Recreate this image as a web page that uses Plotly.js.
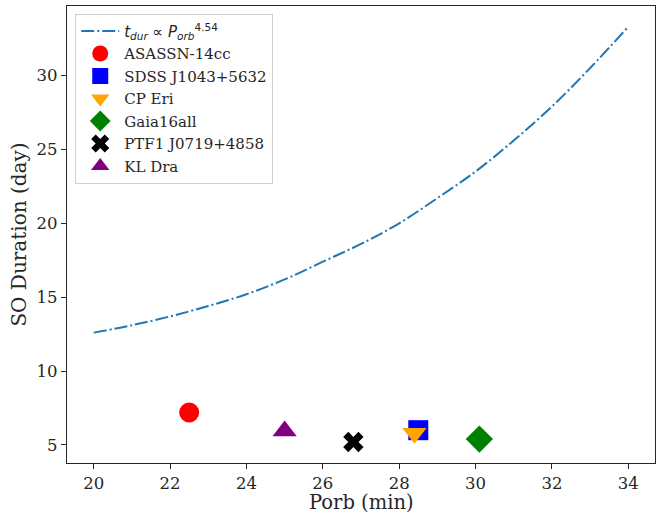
<!DOCTYPE html>
<html>
<head>
<meta charset="utf-8">
<script src="https://cdn.plot.ly/plotly-3.0.1.min.js"></script>
<style>html,body{margin:0;padding:0;background:#fff;}</style>
</head>
<body>
<div id="chart" style="width:671px;height:514px;"></div>
<script>
// Trend curve
const curveP = [20, 21, 22, 23, 24, 25, 26, 27, 28, 29, 30, 31, 32, 33, 34];
const curveT = [12.6, 13.1, 13.7, 14.4, 15.2, 16.2, 17.4, 18.6, 20.0, 21.7, 23.5, 25.6, 27.9, 30.5, 33.3];

// Objects
const names = ["ASASSN-14cc", "SDSS J1043+5632", "CP Eri", "Gaia16all", "PTF1 J0719+4858", "KL Dra"];
const porb = [22.5, 28.5, 28.4, 30.1, 26.8, 25.0];
const soDur = [7.2, 6.0, 5.8, 5.4, 5.2, 5.95];
const colors = ["red", "blue", "orange", "green", "black", "purple"];
const symbols = ["circle", "square", "triangle-down", "diamond", "x", "triangle-up"];
const sizes = [20, 20, 21, 21, 18, 21];

const xTicks = [20, 22, 24, 26, 28, 30, 32, 34];
const yTicks = [5, 10, 15, 20, 25, 30];
const xTitle = "Porb (min)";
const yTitle = "SO Duration (day)";

const traces = [{
  x: curveP, y: curveT, type: "scatter", mode: "lines",
  name: "<span style=\"font-family:'DejaVu Sans'\"><i>t<sub>dur</sub></i> \u221D <i>P<sub>orb</sub></i><sup>4.54</sup></span>",
  line: {color: "#1f77b4", width: 2, dash: "13px,3px,2px,3px", shape: "spline"}
}];
for (let i = 0; i < names.length; i++) {
  traces.push({
    x: [porb[i]], y: [soDur[i]], type: "scatter", mode: "markers", name: names[i],
    marker: {color: colors[i], symbol: symbols[i], size: sizes[i], line: {width: 0}}
  });
}

const axisCommon = {
  showgrid: false, zeroline: false, showline: true, mirror: true,
  linecolor: "#262626", linewidth: 1.2, ticks: "outside", ticklen: 5, tickwidth: 1.2,
  tickcolor: "#262626", tickfont: {family: "DejaVu Serif", size: 16.5, color: "#262626"}
};

const layout = {
  width: 671, height: 514,
  margin: {l: 67, r: 16, t: 6, b: 51},
  paper_bgcolor: "#fff", plot_bgcolor: "#fff",
  showlegend: true,
  legend: {
    x: 0.014, y: 0.983, xanchor: "left", yanchor: "top",
    bgcolor: "rgba(255,255,255,0.8)", bordercolor: "#d0d0d0", borderwidth: 1,
    font: {family: "DejaVu Serif", size: 15, color: "#262626"},
    tracegroupgap: 0, itemwidth: 38
  },
  xaxis: Object.assign({}, axisCommon, {
    range: [19.3, 34.7], tickvals: xTicks
  }),
  yaxis: Object.assign({}, axisCommon, {
    range: [3.78, 34.7], tickvals: yTicks,
    title: {text: yTitle, font: {family: "DejaVu Serif", size: 20, color: "#262626"}, standoff: 4}
  }),
  annotations: [{
    text: xTitle, xref: "paper", yref: "paper", x: 0.5, y: 0,
    xanchor: "center", yanchor: "top", yshift: -26.5, showarrow: false, borderpad: 0,
    font: {family: "DejaVu Serif", size: 19.5, color: "#262626"}
  }]
};

Plotly.newPlot("chart", traces, layout, {displayModeBar: false});
</script>
</body>
</html>
